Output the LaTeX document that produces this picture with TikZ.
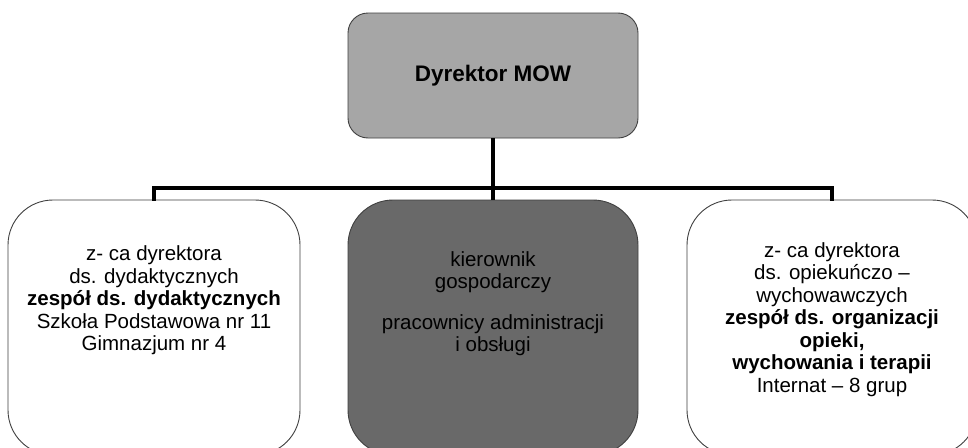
\documentclass[tikz,border=0pt]{standalone}
\usepackage{fontspec}
\setmainfont{Liberation Sans}
\usetikzlibrary{calc}
\definecolor{topgray}{HTML}{A6A6A6}
\definecolor{midgray}{HTML}{696969}
\definecolor{edgegray}{HTML}{404040}
\begin{document}
\begin{tikzpicture}[x=1pt,y=1pt,
  box/.style={draw=edgegray, line width=0.9pt, rounded corners=#1, inner sep=0pt},
  conn/.style={draw=black, line width=3.3pt},
  txt/.style={align=center, font=\fontsize{20.5}{22.5}\selectfont, text=black, inner sep=0pt}]
\useasboundingbox (0,0) rectangle (968,-447);
\clip (0,0) rectangle (968,-447);
\fill[white] (0,0) rectangle (968,-447);
% boxes
\node[box=20pt, fill=topgray, minimum width=290pt, minimum height=125pt] (top) at (493,-75.5) {};
\node[box=45pt, fill=white, minimum width=292pt, minimum height=255pt] (left) at (154,-327.5) {};
\node[box=45pt, fill=midgray, minimum width=290pt, minimum height=255pt] (mid) at (493,-327.5) {};
\node[box=45pt, fill=white, minimum width=290pt, minimum height=255pt] (right) at (832,-327.5) {};
% connectors
\coordinate (bus) at (493,-188);
\draw[conn] (top.south) -- (mid.north);
\draw[conn, line cap=rect] (left.north) |- (bus) -| (right.north);
% texts
\node[txt, font=\fontsize{22.5}{26}\selectfont\bfseries] (ttop) at (top.center) {Dyrektor MOW};
\node[txt] (tleft) at ([yshift=-101pt]left.north) {z- ca dyrektora\\ds. dydaktycznych\\\textbf{zespół ds. dydaktycznych}\\Szkoła Podstawowa nr 11\\Gimnazjum nr 4};
\node[txt] (tmid) at ([yshift=-104pt]mid.north) {kierownik\\gospodarczy\\[18pt]pracownicy administracji\\i obsługi};
\node[txt] (tright) at ([yshift=-120pt]right.north) {z- ca dyrektora\\ds. opiekuńczo –\\wychowawczych\\\textbf{zespół ds. organizacji}\\\textbf{opieki,}\\\textbf{wychowania i terapii}\\Internat – 8 grup};
\end{tikzpicture}
\end{document}
